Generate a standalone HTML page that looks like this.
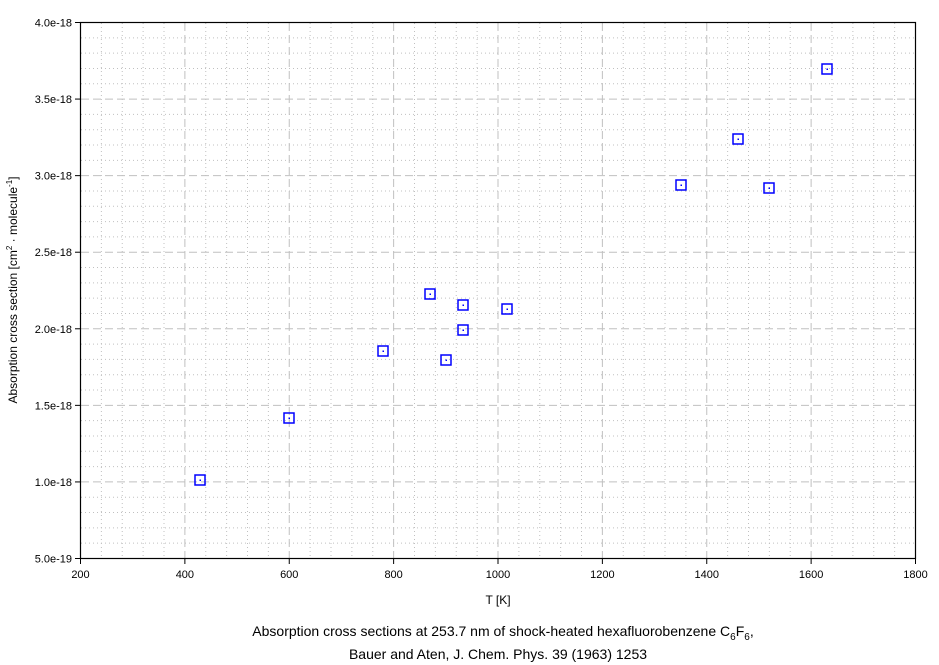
<!DOCTYPE html>
<html><head><meta charset="utf-8"><style>
body{margin:0;background:#fff;}
svg{display:block;font-family:"Liberation Sans",Arial,sans-serif;}
</style></head><body>
<svg width="939" height="665" viewBox="0 0 939 665" xmlns="http://www.w3.org/2000/svg">
<rect width="939" height="665" fill="#fff"/>
<g id="minor" stroke="#c0c0c0" stroke-width="1" stroke-dasharray="1,3"></g>
<g id="major" stroke="#c0c0c0" stroke-width="1" stroke-dasharray="8,4"></g>
<rect x="80.5" y="22.5" width="835" height="536" fill="none" stroke="#000" stroke-width="1.2"/>
<g id="ticks" stroke="#000" stroke-width="1"></g>
<g id="lbl" font-size="11" fill="#000"></g>
<text x="498" y="604" font-size="12" text-anchor="middle">T [K]</text>
<text transform="translate(17,290) rotate(-90)" font-size="12" text-anchor="middle">Absorption cross section [cm<tspan dy="-5" font-size="8">2</tspan><tspan dy="5"> · molecule</tspan><tspan dy="-5" font-size="8">-1</tspan><tspan dy="5">]</tspan></text>
<text x="503" y="636" font-size="14" text-anchor="middle">Absorption cross sections at 253.7 nm of shock-heated hexafluorobenzene C<tspan dy="4" font-size="10">6</tspan><tspan dy="-4">F</tspan><tspan dy="4" font-size="10">6</tspan><tspan dy="-4">,</tspan></text>
<text x="498" y="659" font-size="14" text-anchor="middle">Bauer and Aten, J. Chem. Phys. 39 (1963) 1253</text>
<g id="pts" fill="none" stroke="#0000ff" stroke-width="1.5"></g>
</svg>
<script>
const ns="http://www.w3.org/2000/svg";
function el(p,t,a){const e=document.createElementNS(ns,t);for(const k in a)e.setAttribute(k,a[k]);document.getElementById(p).appendChild(e);return e;}
const X=v=>80.5+(v-200)*835/1600, Y=v=>558.5-(v-0.5)*536/3.5;
for(let v=240;v<1800;v+=40){const x=X(v);if(v%200)el('minor','line',{x1:x,x2:x,y1:23,y2:558});else el('major','line',{x1:x,x2:x,y1:23,y2:558});}
for(let i=6;i<40;i++){const v=i/10,y=Y(v);if(i%5)el('minor','line',{x1:81,x2:915,y1:y,y2:y});else el('major','line',{x1:81,x2:915,y1:y,y2:y});}
for(let v=200;v<=1800;v+=200){const x=X(v);el('ticks','line',{x1:x,x2:x,y1:558,y2:564});const t=el('lbl','text',{x:x,y:578,'text-anchor':'middle'});t.textContent=v;}
const yl=['5.0e-19','1.0e-18','1.5e-18','2.0e-18','2.5e-18','3.0e-18','3.5e-18','4.0e-18'];
yl.forEach((s,i)=>{const y=Y(0.5+i*0.5);el('ticks','line',{x1:75,x2:80,y1:y,y2:y});const t=el('lbl','text',{x:72,y:y+4,'text-anchor':'end'});t.textContent=s;});
const P=[[200,480],[289,418],[383,351],[430,294],[446,360],[463,305],[463,330],[507,309],[681,185],[738,139],[769,188],[827,69]];
P.forEach(([x,y])=>{el('pts','rect',{x:x-5,y:y-5,width:10,height:10});el('pts','rect',{x:x-0.5,y:y-0.5,width:1.5,height:1.5,fill:'#0000ff',stroke:'none'});});
</script>
</body></html>
